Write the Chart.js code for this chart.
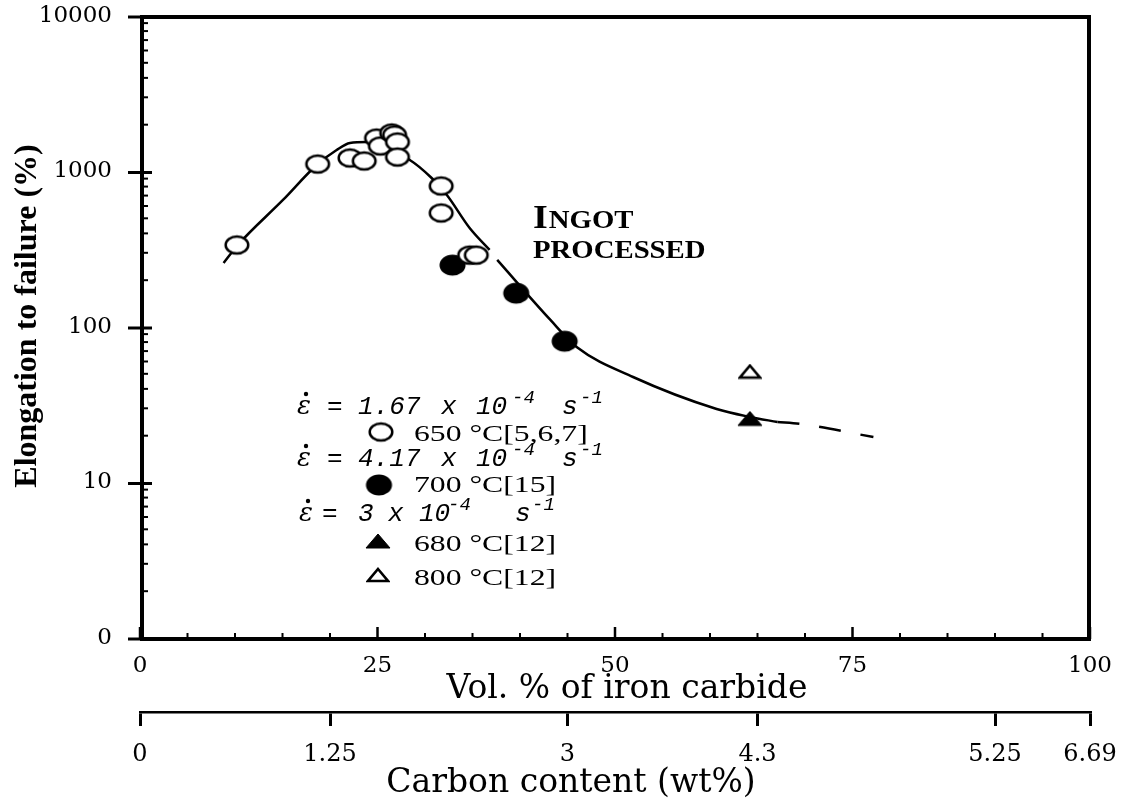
<!DOCTYPE html>
<html><head><meta charset="utf-8">
<script src="https://cdn.jsdelivr.net/npm/chart.js@4/dist/chart.umd.min.js"></script>
<style>html,body{margin:0;padding:0;background:#fff}canvas{display:block}</style>
</head><body>
<canvas id="c" width="1125" height="807"></canvas>
<script>
// ---- data ----
const open650X = [10.2, 18.7, 22.1, 23.6, 24.9, 25.3, 26.5, 26.8, 27.1, 27.1, 31.7, 31.7, 34.7, 35.4];
const open650Y = [337, 1117, 1222, 1169, 1642, 1459, 1769, 1720, 1549, 1239, 807, 541, 290, 290];
const filled700X = [32.9, 39.6, 44.7];
const filled700Y = [250, 165, 81];
const tri680X = [64.2];
const tri680Y = [25.8];
const tri800X = [64.2];
const tri800Y = [51.7];
const fitAX = [8.8, 10.3, 15.05, 18.6, 20.7, 22.1, 23.9, 28.4, 30.7, 32.3, 34.7, 36.8];
const fitAY = [258, 337, 656, 1101, 1375, 1525, 1548, 1186, 908, 706, 433, 313];
const fitBX = [37.6, 43.2, 46.0, 51.9, 60.7, 64.2, 67.1];
const fitBY = [270, 111, 74, 47.7, 29.7, 26.4, 24.5];
const fitDashX = [67.1, 69.5, 77.2];
const fitDashY = [24.5, 23.8, 19.6];

const xTickValues = [0, 25, 50, 75, 100];
const xMinorValues = [5,10,15,20,30,35,40,45,55,60,65,70,80,85,90,95];
const yTickValues = [1, 10, 100, 1000, 10000];
const yTickLabels = ['0', '10', '100', '1000', '10000'];
const carbonTickPositions = [0, 20, 45, 65, 90, 100];
const carbonTickLabels = ['0', '1.25', '3', '4.3', '5.25', '6.69'];
const rateMantissas = ['1.67', '4.17', '3'];
const seriesLabels = ['650 °C[5,6,7]', '700 °C[15]', '680 °C[12]', '800 °C[12]'];

// ---- marker images ----
function ellipseImg(filled, rx, ry){
  const c=document.createElement('canvas'); c.width=Math.ceil(rx*2+5); c.height=Math.ceil(ry*2+5);
  const g=c.getContext('2d'); g.beginPath(); g.ellipse(c.width/2,c.height/2,rx,ry,0,0,Math.PI*2);
  g.fillStyle=filled?'#000':'#fff'; g.fill(); g.lineWidth=2.5; g.strokeStyle='#000'; g.stroke(); return c;
}
function triImg(filled, w, h){
  const c=document.createElement('canvas'); c.width=Math.ceil(w+4); c.height=Math.ceil(h+4);
  const g=c.getContext('2d'); g.beginPath(); g.moveTo(c.width/2,2); g.lineTo(c.width-2,h+2); g.lineTo(2,h+2); g.closePath();
  g.fillStyle=filled?'#000':'#fff'; g.fill(); g.lineWidth=filled?1:2.6; g.lineJoin='miter'; g.strokeStyle='#000'; g.stroke(); return c;
}
const imgOpen = ellipseImg(false, 11.3, 8.6);
const imgFilled = ellipseImg(true, 11.8, 9.3);
const imgTriF = triImg(true, 24, 14);
const imgTriO = triImg(false, 20, 12);

const pts=(xs,ys)=>xs.map((x,i)=>({x:x,y:ys[i]}));

function wideText(c, txt, x, y, sx){ c.save(); c.translate(x,y); c.scale(sx,1); c.fillText(txt,0,0); c.restore(); return c.measureText(txt).width*sx; }

const annot = {
  id:'annot',
  beforeDraw(chart){
    const shift={x:[12,0], x2:[-44,0], y:[0,-11]};
    Object.keys(shift).forEach(id=>{
      const s=chart.scales[id];
      if(s && !s._shifted){
        const orig=s.drawTitle.bind(s);
        s.drawTitle=function(){const c=this.ctx;c.save();c.translate(shift[id][0],shift[id][1]);orig();c.restore();};
        s._shifted=true;
      }
    });
  },
  afterDraw(chart){
    const c=chart.ctx, a=chart.chartArea, xs=chart.scales.x, ys=chart.scales.y;
    c.save();
    c.strokeStyle='#000'; c.fillStyle='#000';
    const L=a.left+2, T=a.top+1, R=a.right-1, B=a.bottom+1;
    c.lineWidth=4; c.lineJoin='miter';
    c.strokeRect(L,T,R-L,B-T);
    // x ticks (inward)
    c.lineWidth=2.5;
    xTickValues.forEach(v=>{const p=xs.getPixelForValue(v); c.beginPath(); c.moveTo(p,B); c.lineTo(p,B-12); c.stroke();});
    c.lineWidth=2;
    xMinorValues.forEach(v=>{const p=xs.getPixelForValue(v); c.beginPath(); c.moveTo(p,B); c.lineTo(p,B-6); c.stroke();});
    // y ticks
    c.lineWidth=3;
    yTickValues.forEach(v=>{const p=ys.getPixelForValue(v); c.beginPath(); c.moveTo(L-14,p+1); c.lineTo(L+10,p+1); c.stroke();});
    c.lineWidth=2;
    for(let d=1; d<10000; d*=10){ for(let m=2;m<10;m++){ const p=ys.getPixelForValue(m*d); c.beginPath(); c.moveTo(L,p); c.lineTo(L+6,p); c.stroke(); } }

    // INGOT PROCESSED
    c.textBaseline='alphabetic'; c.textAlign='left';
    c.font='bold 33px "Liberation Serif"';
    let w=wideText(c,'I',533,228,1.15);
    c.font='bold 25px "Liberation Serif"';
    wideText(c,'NGOT',533+w+1,228,1.15);
    wideText(c,'PROCESSED',533,258,1.15);

    // legend block
    function rate(xEps, base, xs){
      c.font='italic 26px "DejaVu Serif"'; c.fillText('\u03b5',xEps,base);
      c.beginPath(); c.arc(xEps+9,base-20,2.2,0,Math.PI*2); c.fill();
      c.font='italic 26px "Liberation Mono"';
      c.fillText('=',xs[0],base); c.fillText(xs[6],xs[1],base); c.fillText('x',xs[2],base); c.fillText('10',xs[3],base);
      c.fillText('s',xs[5][0],base);
      c.font='italic 19px "Liberation Mono"';
      c.fillText('-4',xs[4],base-11); c.fillText('-1',xs[5][1],base-11);
    }
    rate(297,414,[327,358,441,476,512,[562,580],rateMantissas[0]]);
    rate(297,466,[327,358,441,476,512,[562,580],rateMantissas[1]]);
    rate(299,521,[322,358,388,419,448,[515,532],rateMantissas[2]]);
    c.font='24px "Liberation Serif"';
    const rows=[[imgOpen,381,432,441],[imgFilled,379,485,492],[imgTriF,378,541,551],[imgTriO,378,575,585]];
    rows.forEach((r,i)=>{
      c.drawImage(r[0], r[1]-r[0].width/2, r[2]-r[0].height/2);
      wideText(c, seriesLabels[i], 414, r[3], 1.32);
    });
    c.restore();
  }
};

const lineDs=(xs,ys,dash)=>({data:pts(xs,ys), showLine:true, borderColor:'#000', borderWidth:2.5, borderDash:dash||[], pointRadius:0, cubicInterpolationMode:'monotone', fill:false, order:10});
const ptDs=(xs,ys,img)=>({data:pts(xs,ys), showLine:false, pointStyle:img, pointRadius:10, order:1});

new Chart(document.getElementById('c').getContext('2d'),{
  type:'scatter',
  data:{datasets:[
    lineDs(fitAX,fitAY), lineDs(fitBX,fitBY), lineDs(fitDashX,fitDashY,[22,20]),
    ptDs(open650X,open650Y,imgOpen), ptDs(filled700X,filled700Y,imgFilled),
    ptDs(tri680X,tri680Y,imgTriF), ptDs(tri800X,tri800Y,imgTriO)
  ]},
  options:{
    responsive:false, animation:false, devicePixelRatio:1,
    layout:{padding:{left:0,right:35,top:16,bottom:0}},
    plugins:{legend:{display:false}, tooltip:{enabled:false}},
    scales:{
      x:{type:'linear', min:0, max:100, position:'bottom', weight:0,
        afterBuildTicks:s=>{s.ticks=xTickValues.map(v=>({value:v}));},
        ticks:{color:'#000', font:{family:'DejaVu Serif', size:23}, padding:14, maxRotation:0, autoSkip:false},
        grid:{display:false, drawTicks:false}, border:{display:false},
        title:{display:true, text:'Vol. % of iron carbide', color:'#000', font:{family:'DejaVu Serif', size:33, lineHeight:1}, padding:{top:0,bottom:6}},
        afterFit:s=>{s.height=74; s.paddingLeft=0; s.paddingRight=0;}
      },
      x2:{type:'linear', min:0, max:100, position:'bottom', weight:1,
        afterBuildTicks:s=>{s.ticks=carbonTickPositions.map(v=>({value:v}));},
        ticks:{color:'#000', font:{family:'DejaVu Serif', size:24}, padding:14, maxRotation:0, autoSkip:false,
          callback:(v,i)=>carbonTickLabels[i]},
        grid:{drawOnChartArea:false, drawTicks:true, tickLength:14, lineWidth:3, color:'#000'},
        border:{display:true, color:'#000', width:2.5},
        title:{display:true, text:'Carbon content (wt%)', color:'#000', font:{family:'DejaVu Serif', size:33, lineHeight:1}, padding:{top:0,bottom:7}},
        afterFit:s=>{s.height=95; s.paddingLeft=0; s.paddingRight=0;}
      },
      y:{type:'logarithmic', min:1, max:10000, position:'left',
        afterBuildTicks:s=>{s.ticks=yTickValues.map(v=>({value:v}));},
        ticks:{color:'#000', font:{family:'DejaVu Serif', size:23}, padding:28, autoSkip:false,
          callback:(v,i)=>yTickLabels[i]},
        grid:{display:false, drawTicks:false}, border:{display:false},
        title:{display:true, text:'Elongation to failure (%)', color:'#000', font:{family:'Liberation Serif', size:32, weight:'bold', lineHeight:1}, padding:{top:12,bottom:0}},
        afterFit:s=>{s.width=140; s.paddingTop=0; s.paddingBottom=0;}
      }
    }
  },
  plugins:[annot]
});
</script>
</body></html>
